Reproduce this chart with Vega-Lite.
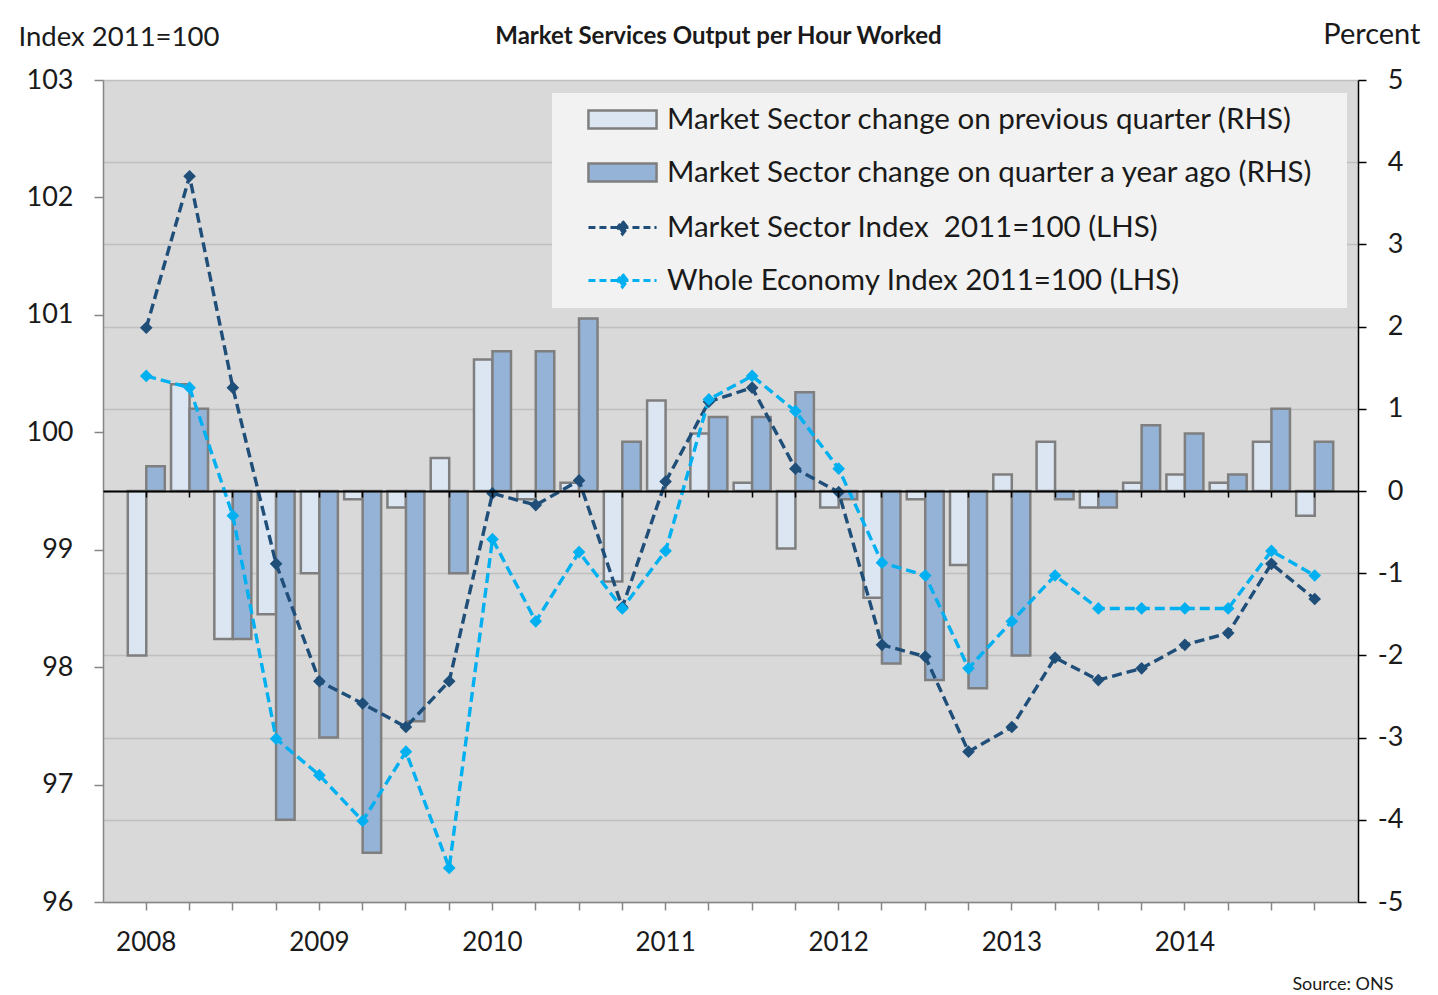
{
  "$schema": "https://vega.github.io/schema/vega-lite/v6.json",
  "autosize": {"type": "none"},
  "width": 1255,
  "height": 822,
  "padding": {"left": 103, "top": 80, "right": 80, "bottom": 93},
  "background": "white",
  "title": {
    "text": "Market Services Output per Hour Worked",
    "anchor": "middle",
    "frame": "group",
    "font": "Lato",
    "fontSize": 24,
    "fontWeight": "bold",
    "color": "#1a1a1a",
    "offset": -29,
    "dx": -12
  },
  "config": {
    "view": {"stroke": null, "fill": "#d9d9d9"},
    "font": "Lato",
    "axis": {"labelFont": "Lato", "titleFont": "Lato", "labelColor": "#1a1a1a", "titleColor": "#1a1a1a", "titleFontWeight": "normal"},
    "legend": {"labelFont": "Lato", "labelColor": "#1a1a1a", "titleFont": "Lato"}
  },
  "data": {
    "values": [
      {"q": "2008 Q1", "prev": -2.0, "yoy": 0.3, "ms": 100.89, "we": 100.48},
      {"q": "2008 Q2", "prev": 1.3, "yoy": 1.0, "ms": 102.18, "we": 100.38},
      {"q": "2008 Q3", "prev": -1.8, "yoy": -1.8, "ms": 100.38, "we": 99.29},
      {"q": "2008 Q4", "prev": -1.5, "yoy": -4.0, "ms": 98.88, "we": 97.39},
      {"q": "2009 Q1", "prev": -1.0, "yoy": -3.0, "ms": 97.88, "we": 97.08},
      {"q": "2009 Q2", "prev": -0.1, "yoy": -4.4, "ms": 97.69, "we": 96.69},
      {"q": "2009 Q3", "prev": -0.2, "yoy": -2.8, "ms": 97.49, "we": 97.28},
      {"q": "2009 Q4", "prev": 0.4, "yoy": -1.0, "ms": 97.88, "we": 96.29},
      {"q": "2010 Q1", "prev": 1.6, "yoy": 1.7, "ms": 99.48, "we": 99.09},
      {"q": "2010 Q2", "prev": -0.1, "yoy": 1.7, "ms": 99.38, "we": 98.39},
      {"q": "2010 Q3", "prev": 0.1, "yoy": 2.1, "ms": 99.59, "we": 98.98},
      {"q": "2010 Q4", "prev": -1.1, "yoy": 0.6, "ms": 98.51, "we": 98.50},
      {"q": "2011 Q1", "prev": 1.1, "yoy": 0.0, "ms": 99.58, "we": 98.99},
      {"q": "2011 Q2", "prev": 0.7, "yoy": 0.9, "ms": 100.26, "we": 100.28},
      {"q": "2011 Q3", "prev": 0.1, "yoy": 0.9, "ms": 100.38, "we": 100.48},
      {"q": "2011 Q4", "prev": -0.7, "yoy": 1.2, "ms": 99.69, "we": 100.18},
      {"q": "2012 Q1", "prev": -0.2, "yoy": -0.1, "ms": 99.49, "we": 99.69},
      {"q": "2012 Q2", "prev": -1.3, "yoy": -2.1, "ms": 98.19, "we": 98.89},
      {"q": "2012 Q3", "prev": -0.1, "yoy": -2.3, "ms": 98.09, "we": 98.78},
      {"q": "2012 Q4", "prev": -0.9, "yoy": -2.4, "ms": 97.28, "we": 97.99},
      {"q": "2013 Q1", "prev": 0.2, "yoy": -2.0, "ms": 97.49, "we": 98.39},
      {"q": "2013 Q2", "prev": 0.6, "yoy": -0.1, "ms": 98.08, "we": 98.78},
      {"q": "2013 Q3", "prev": -0.2, "yoy": -0.2, "ms": 97.89, "we": 98.50},
      {"q": "2013 Q4", "prev": 0.1, "yoy": 0.8, "ms": 97.99, "we": 98.50},
      {"q": "2014 Q1", "prev": 0.2, "yoy": 0.7, "ms": 98.19, "we": 98.50},
      {"q": "2014 Q2", "prev": 0.1, "yoy": 0.2, "ms": 98.29, "we": 98.50},
      {"q": "2014 Q3", "prev": 0.6, "yoy": 1.0, "ms": 98.88, "we": 98.99},
      {"q": "2014 Q4", "prev": -0.3, "yoy": 0.6, "ms": 98.58, "we": 98.78}
    ]
  },
  "layer": [
    {
      "transform": [{"fold": ["prev", "yoy"], "as": ["measure", "value"]}],
      "mark": {"type": "bar", "stroke": "#7f7f7f", "strokeWidth": 2.5},
      "encoding": {
        "x": {
          "field": "q", "type": "nominal", "sort": null,
          "scale": {"type": "band", "domain": ["2008 Q1","2008 Q2","2008 Q3","2008 Q4","2009 Q1","2009 Q2","2009 Q3","2009 Q4","2010 Q1","2010 Q2","2010 Q3","2010 Q4","2011 Q1","2011 Q2","2011 Q3","2011 Q4","2012 Q1","2012 Q2","2012 Q3","2012 Q4","2013 Q1","2013 Q2","2013 Q3","2013 Q4","2014 Q1","2014 Q2","2014 Q3","2014 Q4"], "paddingInner": 0, "paddingOuter": 0.5},
          "axis": {"orient": "bottom", "offset": -411, "labels": false, "title": null, "domainColor": "#000000", "domainWidth": 2, "tickColor": "#000000", "tickSize": 6, "tickWidth": 1.5, "grid": false, "zindex": 1, "bandPosition": 0.5}
        },
        "xOffset": {"field": "measure", "type": "nominal", "scale": {"domain": ["prev", "yoy"], "paddingInner": 0, "paddingOuter": 0.17}},
        "y": {
          "field": "value", "type": "quantitative",
          "scale": {"domain": [-5, 5], "nice": false},
          "axis": {"orient": "right", "values": [-5,-4,-3,-2,-1,0,1,2,3,4,5], "labelExpr": "toString(datum.value)", "grid": true, "gridColor": "#bfbfbf", "gridWidth": 1.5, "domainColor": "#000000", "domainWidth": 1.5, "tickColor": "#000000", "tickSize": 8, "tickWidth": 1.5, "labelFontSize": 27, "labelAlign": "right", "labelPadding": 37, "title": "Percent", "titleAngle": 0, "titleAlign": "right", "titleBaseline": "middle", "titleX": 62, "titleY": -46, "titleFontSize": 29}
        },
        "fill": {
          "field": "measure", "type": "nominal",
          "scale": {"domain": ["prev", "yoy"], "range": ["#dce6f2", "#95b3d7"]},
          "legend": {
            "orient": "none", "legendX": 449, "legendY": 13, "zindex": 1,
            "title": "\u200b", "titleOrient": "bottom", "titlePadding": 109, "titleFontSize": 2,
            "fillColor": "#f2f2f2", "padding": 10, "rowPadding": 22,
            "symbolType": "M-2.27,-0.6H2.27V0.6H-2.27Z", "symbolSize": 900,
            "symbolStrokeColor": "#7f7f7f", "symbolStrokeWidth": 2.5, "symbolOffset": 44,
            "labelOffset": 28, "labelFontSize": 29.5, "labelLimit": 1500,
            "labelExpr": "datum.value == 'prev' ? 'Market Sector change on previous quarter (RHS)' : 'Market Sector change on quarter a year ago (RHS)\u00a0\u00a0\u00a0\u200b'"
          }
        }
      }
    },
    {
      "transform": [{"fold": ["ms", "we"], "as": ["series", "index"]}],
      "encoding": {
        "x": {
          "field": "q", "type": "nominal", "sort": null,
          "scale": {"type": "band", "domain": ["2008 Q1","2008 Q2","2008 Q3","2008 Q4","2009 Q1","2009 Q2","2009 Q3","2009 Q4","2010 Q1","2010 Q2","2010 Q3","2010 Q4","2011 Q1","2011 Q2","2011 Q3","2011 Q4","2012 Q1","2012 Q2","2012 Q3","2012 Q4","2013 Q1","2013 Q2","2013 Q3","2013 Q4","2014 Q1","2014 Q2","2014 Q3","2014 Q4"], "paddingInner": 0, "paddingOuter": 0.5},
          "axis": {"orient": "bottom", "domainColor": "#868686", "domainWidth": 1.5, "tickColor": "#868686", "tickSize": 8, "tickWidth": 1.5, "labelFontSize": 26, "labelPadding": 19, "labelAngle": 0, "grid": false, "bandPosition": 0.5,
            "labelExpr": "indexof(datum.value, 'Q1') > 0 ? slice(datum.value, 0, 4) : ''",
            "title": "Source: ONS", "titleX": 1290, "titleY": 82, "titleAlign": "right", "titleBaseline": "middle", "titleFontSize": 18}
        },
        "y": {
          "field": "index", "type": "quantitative",
          "scale": {"domain": [96, 103], "nice": false, "zero": false},
          "axis": {"orient": "left", "values": [96,97,98,99,100,101,102,103], "grid": false, "domainColor": "#868686", "domainWidth": 1.5, "tickColor": "#868686", "tickSize": 9, "tickWidth": 1.5, "labelFontSize": 27, "labelPadding": 21, "title": "Index 2011=100", "titleAngle": 0, "titleAlign": "left", "titleBaseline": "middle", "titleX": -85, "titleY": -43, "titleFontSize": 27.5}
        },
        "color": {
          "field": "series", "type": "nominal",
          "scale": {"domain": ["ms", "we"], "range": ["#1f4e79", "#00b0f0"]},
          "legend": {
            "orient": "none", "legendX": 449, "legendY": 121, "title": null, "zindex": 2,
            "padding": 10, "rowPadding": 22,
            "symbolType": "M-2.27,0H2.27M0,-0.43L0.33,0L0,0.43L-0.33,0Z", "symbolSize": 900,
            "symbolStrokeWidth": 3, "symbolDash": [7, 4], "symbolOffset": 44,
            "labelOffset": 28, "labelFontSize": 29.5, "labelLimit": 1500,
            "labelExpr": "datum.value == 'ms' ? 'Market Sector Index \u00a02011=100 (LHS)' : 'Whole Economy Index 2011=100 (LHS)'"
          }
        }
      },
      "layer": [
        {"mark": {"type": "line", "strokeDash": [10, 5], "strokeWidth": 3.4}},
        {"mark": {"type": "point", "shape": "diamond", "filled": true, "size": 160, "opacity": 1}}
      ]
    }
  ],
  "resolve": {"scale": {"y": "independent"}, "axis": {"x": "independent"}}
}
